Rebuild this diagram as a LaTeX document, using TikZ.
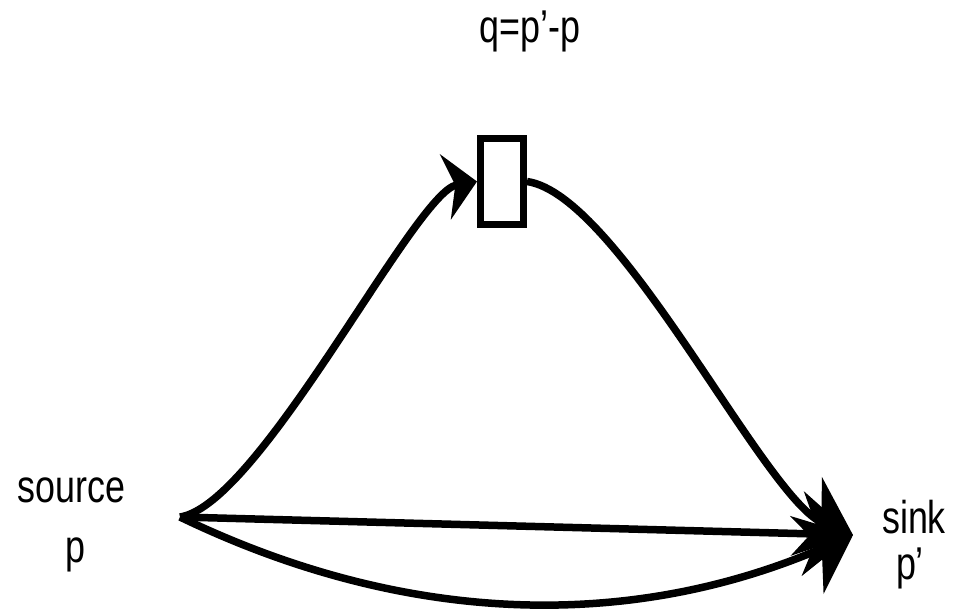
\documentclass[tikz,border=0pt]{standalone}
\usepackage{fontspec}
\usepackage{graphicx}
\setmainfont{Liberation Sans}
\usetikzlibrary{arrows.meta}
\newcommand\nar[1]{\scalebox{0.78}[1]{#1}}
\begin{document}
\begin{tikzpicture}[x=1pt,y=-1pt,
  lbl/.style={anchor=base,inner sep=0pt,font=\fontsize{46}{50}\selectfont},
  flow/.style={line width=7.5pt},
  tipsmall/.style={-{Stealth[length=32pt,width=66pt,inset=10pt]}},
  tipbig/.style={-{Stealth[length=50pt,width=84pt,inset=16pt]}},
  boxst/.style={draw,line width=7pt,minimum width=43pt,minimum height=86pt,inner sep=0pt,fill=white}]
\useasboundingbox (0,0) rectangle (956,612);
\coordinate (src) at (180,517);
\coordinate (snk) at (853,535);
\node[boxst] (box) at (502,181.5) {};
\node[lbl] (qlbl) at (530,43) {\nar{q=p’-p}};
\node[lbl] (srclbl) at (71.5,502) {\nar{source}};
\node[lbl] (plbl) at (75,562) {\nar{p}};
\node[lbl] (snklbl) at (914,533) {\nar{sink}};
\node[lbl] (pplbl) at (910,579) {\nar{p’}};
\draw[flow,tipsmall] (src) .. controls (260,505) and (415,192) .. (box.west);
\draw[flow,tipbig] (box.east) .. controls (620,195) and (765,500) .. (snk);
\draw[flow,tipbig] (src) -- (snk);
\draw[flow,tipbig] (src) .. controls (404,625) and (628,632) .. (snk);
\end{tikzpicture}
\end{document}
